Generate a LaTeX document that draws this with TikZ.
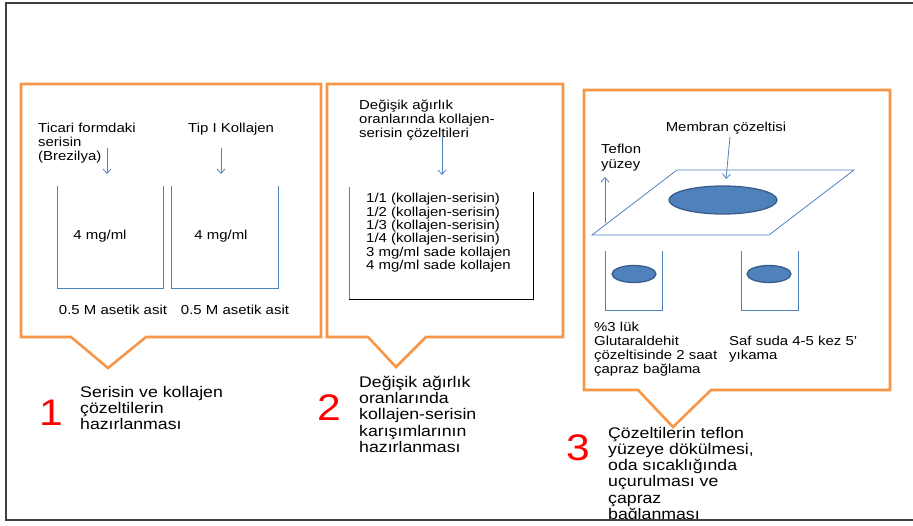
\documentclass[tikz,border=0pt]{standalone}
\usepackage{fontspec}
\setmainfont{Liberation Sans}[FakeStretch=1.15]
\usetikzlibrary{arrows.meta}
\definecolor{orangeline}{HTML}{F79646}
\definecolor{blueline}{HTML}{4F81BD}
\definecolor{bluedark}{HTML}{385D8A}
\definecolor{framegray}{HTML}{404040}
\begin{document}
\begin{tikzpicture}[x=1pt,y=-1pt,>={Straight Barb[length=4.5pt,width=8pt]},
  callout/.style = {draw=orangeline, line width=2.6pt},
  thinline/.style = {draw=blueline, line width=0.8pt},
  blob/.style = {fill=blueline, draw=bluedark, line width=1.3pt},
  txt/.style = {inner sep=0pt, anchor=north west, align=left, font=\fontsize{13}{14}\selectfont},
  mid/.style = {inner sep=0pt, font=\fontsize{13}{14}\selectfont},
  step text/.style = {inner sep=0pt, anchor=north west, align=left, font=\fontsize{15.4}{16.2}\selectfont},
  num/.style = {inner sep=0pt, text=red, font=\fontsize{37}{37}\selectfont},]
\useasboundingbox (0,0) rectangle (913,525);
% callout boxes
\draw[callout] (21,84)--(321,84)--(321,337)--(146,337)--(108,368)--(71,337)--(21,337)--cycle;
\draw[callout] (327,84)--(563,84)--(563,337)--(426,337)--(396,367)--(368,337)--(327,337)--cycle;
\draw[callout] (584,90)--(890,90)--(890,390)--(711,390)--(673,427)--(638,390)--(584,390)--cycle;
% box 1
\node (T1) at (38,123)[txt] {Ticari formdaki\\serisin\\(Brezilya)};
\node (T2) at (188,123)[txt] {Tip I Kollajen};
\coordinate (a1) at (107,148);
\coordinate (b1) at (107,174);
\coordinate (a2) at (221,148);
\coordinate (b2) at (221,174);
\draw[thinline,->] (a1)--(b1);
\draw[thinline,->] (a2)--(b2);
\draw[thinline] (57,186)--(57,288)--(163,288)--(163,186);
\draw[thinline] (171,186)--(171,288)--(278,288)--(278,186);
\node (C1) at (100,236)[mid] {4 mg/ml};
\node (C2) at (221,236)[mid] {4 mg/ml};
\node (S1) at (113,310)[mid] {0.5 M asetik asit};
\node (S2) at (235,310)[mid] {0.5 M asetik asit};
% box 2
\node (D1) at (359,100)[txt] {Değişik ağırlık\\oranlarında kollajen-\\serisin çözeltileri};
\coordinate (a3) at (442,137);
\coordinate (b3) at (442,175);
\draw[thinline,->] (a3)--(b3);
\draw[thinline] (349,187)--(349,299);
\draw[black, line width=0.8pt] (349,299)--(533,299)--(533,192);
\node (L) at (366,193)[txt,font=\fontsize{13}{13.4}\selectfont] {1/1 (kollajen-serisin)\\1/2 (kollajen-serisin)\\1/3 (kollajen-serisin)\\1/4 (kollajen-serisin)\\3 mg/ml sade kollajen\\4 mg/ml sade kollajen};
% box 3
\node (M) at (726,128)[mid] {Membran çözeltisi};
\coordinate (a4) at (730,137);
\coordinate (b4) at (726,179);
\draw[thinline,->] (a4)--(b4);
\node (TY) at (601,144)[txt,font=\fontsize{13}{14.6}\selectfont] {Teflon\\yüzey};
\coordinate (a5) at (605,223);
\coordinate (b5) at (605,177);
\draw[thinline,->] (a5)--(b5);
\draw[thinline] (592,235)--(677,170)--(854,170)--(769,235)--cycle;
\draw[blob] (723,200) ellipse [x radius=54pt, y radius=14pt];
\draw[thinline] (605,251)--(605,310)--(662,310)--(662,251);
\draw[thinline] (741,251)--(741,310)--(798,310)--(798,251);
\draw[blob] (634,274) ellipse [x radius=22pt, y radius=8.5pt];
\draw[blob] (769,274) ellipse [x radius=22pt, y radius=8.5pt];
\node (G) at (594,322)[txt] {\%3 lük\\Glutaraldehit\\çözeltisinde 2 saat\\çapraz bağlama};
\node (W) at (729,336)[txt] {Saf suda 4-5 kez 5'\\yıkama};
% steps
\node (N1) at (51,413)[num] {1};
\node (P1) at (80,386)[step text] {Serisin ve kollajen\\çözeltilerin\\hazırlanması};
\node (N2) at (329,408)[num] {2};
\node (P2) at (359,376)[step text] {Değişik ağırlık\\oranlarında\\kollajen-serisin\\karışımlarının\\hazırlanması};
\node (N3) at (578,448)[num] {3};
\node (P3) at (608,427)[step text] {Çözeltilerin teflon\\yüzeye dökülmesi,\\oda sıcaklığında\\uçurulması ve\\çapraz\\bağlanması};
% frame
\fill[white] (6,521) rectangle (913,525);
\draw[framegray, line width=2pt] (913,3)--(6,3)--(6,520)--(913,520);
\end{tikzpicture}
\end{document}
